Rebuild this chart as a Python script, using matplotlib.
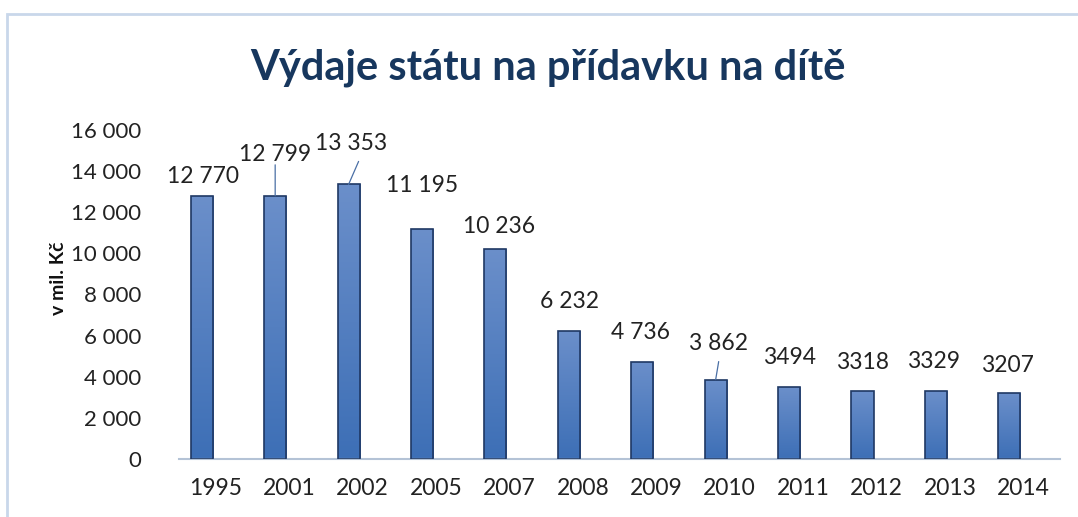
import numpy as np
import matplotlib
matplotlib.use('Agg')
from matplotlib import pyplot as plt
from matplotlib.patches import Rectangle
from matplotlib.colors import LinearSegmentedColormap

years = ['1995', '2001', '2002', '2005', '2007', '2008', '2009', '2010', '2011', '2012', '2013', '2014']
values = [12770, 12799, 13353, 11195, 10236, 6232, 4736, 3862, 3494, 3318, 3329, 3207]
labels = ['12 770', '12 799', '13 353', '11 195', '10 236', '6 232', '4 736', '3 862', '3494', '3318', '3329', '3207']
yticks = [0, 2000, 4000, 6000, 8000, 10000, 12000, 14000, 16000]
ytick_labels = ['0', '2 000', '4 000', '6 000', '8 000', '10 000', '12 000', '14 000', '16 000']

# label offsets (pixels from bar top) and leader line start points
offsets = [(1, 20), (0, 41), (2, 41), (0, 43), (4, 22), (1, 29),
           (-2, 29), (3, 36), (0, 30), (0, 28), (-2, 29), (-2, 28)]
leaders = {1: (0, 31), 2: (10, 23), 7: (3, 18)}

plt.rcParams['font.family'] = ['Lato', 'DejaVu Sans']

fig = plt.figure(figsize=(10.78, 5.17), dpi=100)
fig.patch.set_facecolor('white')
fig.patches.append(Rectangle((7/1078, -0.05), 1.2, 1 - 14/517 + 0.05,
                             transform=fig.transFigure, fill=False,
                             edgecolor='#C9D7EA', linewidth=2))

ax = fig.add_axes([179/1078, 1 - 459/517, (1060-179)/1078, (459-130)/517])
x = np.arange(len(years))
shift = -0.19  # bars sit a bit left of the category centre
bars = ax.bar(x + shift, values, width=0.3, color='#4F7CC0', edgecolor='#1F3864',
              linewidth=1.2, zorder=2)

grad = np.linspace(0, 1, 256).reshape(-1, 1)
cmap = LinearSegmentedColormap.from_list('g', ['#3D6FB6', '#6B8FCA'])
for b in bars:
    bx, by = b.get_x(), b.get_y()
    im = ax.imshow(grad, cmap=cmap, aspect='auto', origin='lower',
                   extent=[bx, bx + b.get_width(), by, by + b.get_height()], zorder=2)
    im.set_clip_path(b)
    b.set_facecolor('none')
    b.set_zorder(3)

for i, (v, lab) in enumerate(zip(values, labels)):
    dx, dy = offsets[i]
    ax.annotate(lab, xy=(x[i] + shift, v), xytext=(dx, dy), textcoords='offset pixels',
                ha='center', va='center', fontsize=16.5, color='#222222')
    if i in leaders:
        ax.annotate('', xy=(x[i] + shift, v), xytext=leaders[i], textcoords='offset pixels',
                    arrowprops=dict(arrowstyle='-', color='#4A6FA5', lw=0.9,
                                    shrinkA=0, shrinkB=0))

ax.set_xlim(-0.5, len(years) - 0.5)
ax.set_ylim(0, 16000)
ax.set_yticks(yticks)
ax.set_yticklabels(ytick_labels)
ax.set_xticks(x)
ax.set_xticklabels(years)
ax.tick_params(axis='y', length=0, pad=27, labelsize=16, labelcolor='#222222')
ax.tick_params(axis='x', length=0, pad=14, labelsize=16.5, labelcolor='#222222')
for s in ['top', 'right', 'left']:
    ax.spines[s].set_visible(False)
ax.spines['bottom'].set_color('#B4C3D6')
ax.spines['bottom'].set_linewidth(1.5)

ax.set_ylabel('v mil. Kč', fontsize=14, fontweight='bold', color='#111111')
ax.yaxis.set_label_coords(-0.127, 0.55)
fig.text(0.508, 1 - 68/517, 'Výdaje státu na přídavku na dítě', ha='center', va='center',
         fontsize=30, fontweight='bold', color='#17375E')

fig.savefig('out.png', dpi=100)
